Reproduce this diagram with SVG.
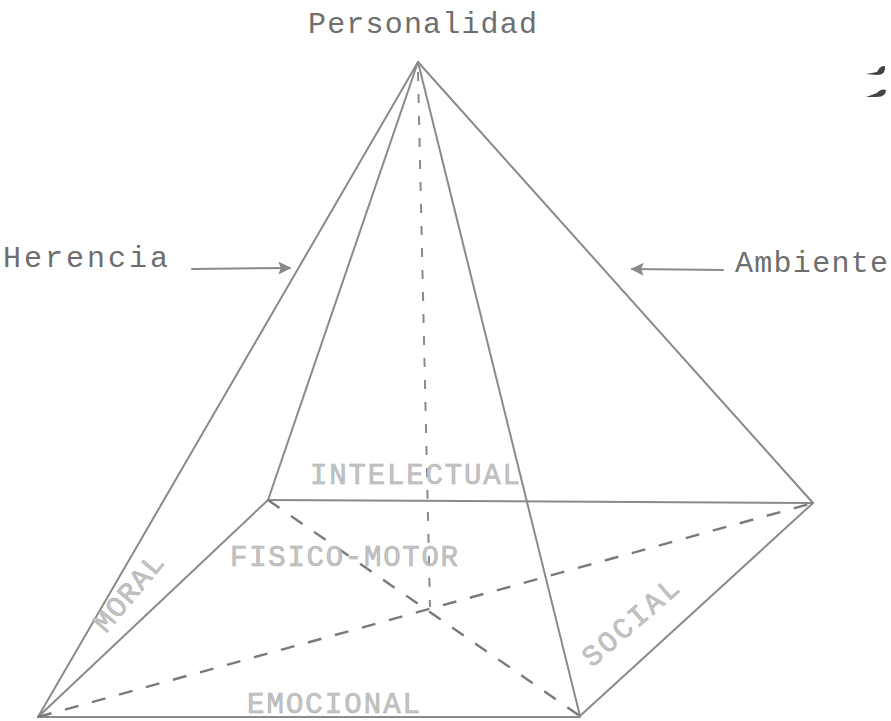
<svg xmlns="http://www.w3.org/2000/svg" width="891" height="721" viewBox="0 0 891 721">
<style>
.edge{stroke:#8a8a8a;stroke-width:2;fill:none;stroke-linecap:round}
.dash{stroke:#7a7a7a;stroke-width:2.4;fill:none;stroke-dasharray:14 14}
.vdash{stroke:#8a8a8a;stroke-width:2;fill:none;stroke-dasharray:9 13}
.lbl{font-family:"Liberation Mono","DejaVu Sans Mono",monospace;font-size:30px;fill:#6e6e6e}
.face{font-family:"Liberation Mono","DejaVu Sans Mono",monospace;font-size:29px;fill:#c4c4c4;stroke:#b0b0b0;stroke-width:0.6}
</style>
<defs>
<marker id="ah" viewBox="0 0 10 10" refX="9" refY="5" markerWidth="6.5" markerHeight="6.5" orient="auto">
<path d="M0,0 L10,5 L0,10 L2,5 z" fill="#8a8a8a"/>
</marker>
</defs>
<rect width="891" height="721" fill="#ffffff"/>
<g id="connectors">
<line class="edge" x1="418" y1="62" x2="38" y2="717"/>
<line class="edge" x1="418" y1="62" x2="268" y2="500"/>
<line class="edge" x1="418" y1="62" x2="580" y2="716"/>
<line class="edge" x1="418" y1="62" x2="813" y2="503"/>
<line class="edge" x1="268" y1="500" x2="813" y2="503"/>
<line class="edge" x1="268" y1="500" x2="38" y2="717"/>
<line class="edge" x1="38" y1="717" x2="580" y2="717"/>
<line class="edge" x1="580" y1="716" x2="813" y2="503"/>
<line class="vdash" x1="418" y1="72" x2="430" y2="607"/>
<line class="dash" x1="268" y1="500" x2="580" y2="716"/>
<line class="dash" x1="38" y1="717" x2="813" y2="503"/>
<line class="edge" x1="192" y1="269" x2="290" y2="268" stroke-width="2.5" marker-end="url(#ah)"/>
<line class="edge" x1="723" y1="270" x2="632" y2="269" stroke-width="2.5" marker-end="url(#ah)"/>
</g>
<g id="personalidad"><text class="lbl" x="308" y="33" textLength="229" lengthAdjust="spacing">Personalidad</text></g>
<g id="herencia"><text class="lbl" x="3" y="267" textLength="165" lengthAdjust="spacing">Herencia</text></g>
<g id="ambiente"><text class="lbl" x="735" y="272" textLength="153" lengthAdjust="spacing">Ambiente</text></g>
<g id="intelectual"><text class="face" x="310" y="484" textLength="210" lengthAdjust="spacing">INTELECTUAL</text></g>
<g id="fisico-motor"><text class="face" x="230" y="566" textLength="228" lengthAdjust="spacing">FISICO-MOTOR</text></g>
<g id="emocional"><text class="face" x="247" y="713" textLength="173" lengthAdjust="spacing">EMOCIONAL</text></g>
<g id="moral"><text class="face" transform="translate(106,634) rotate(-50)" x="0" y="0" textLength="92" lengthAdjust="spacing" font-size="25">MORAL</text></g>
<g id="social"><text class="face" transform="translate(592,668) rotate(-41)" x="0" y="0" textLength="118" lengthAdjust="spacing">SOCIAL</text></g>
<g id="marks">
<path d="M866,74 L877,72 Q880,65 885,66 Q886,75 877,75 Z" fill="#444"/>
<path d="M866,97 L877,93 Q881,88 886,90 Q886,97 877,97 Z" fill="#444"/>
</g>
</svg>
